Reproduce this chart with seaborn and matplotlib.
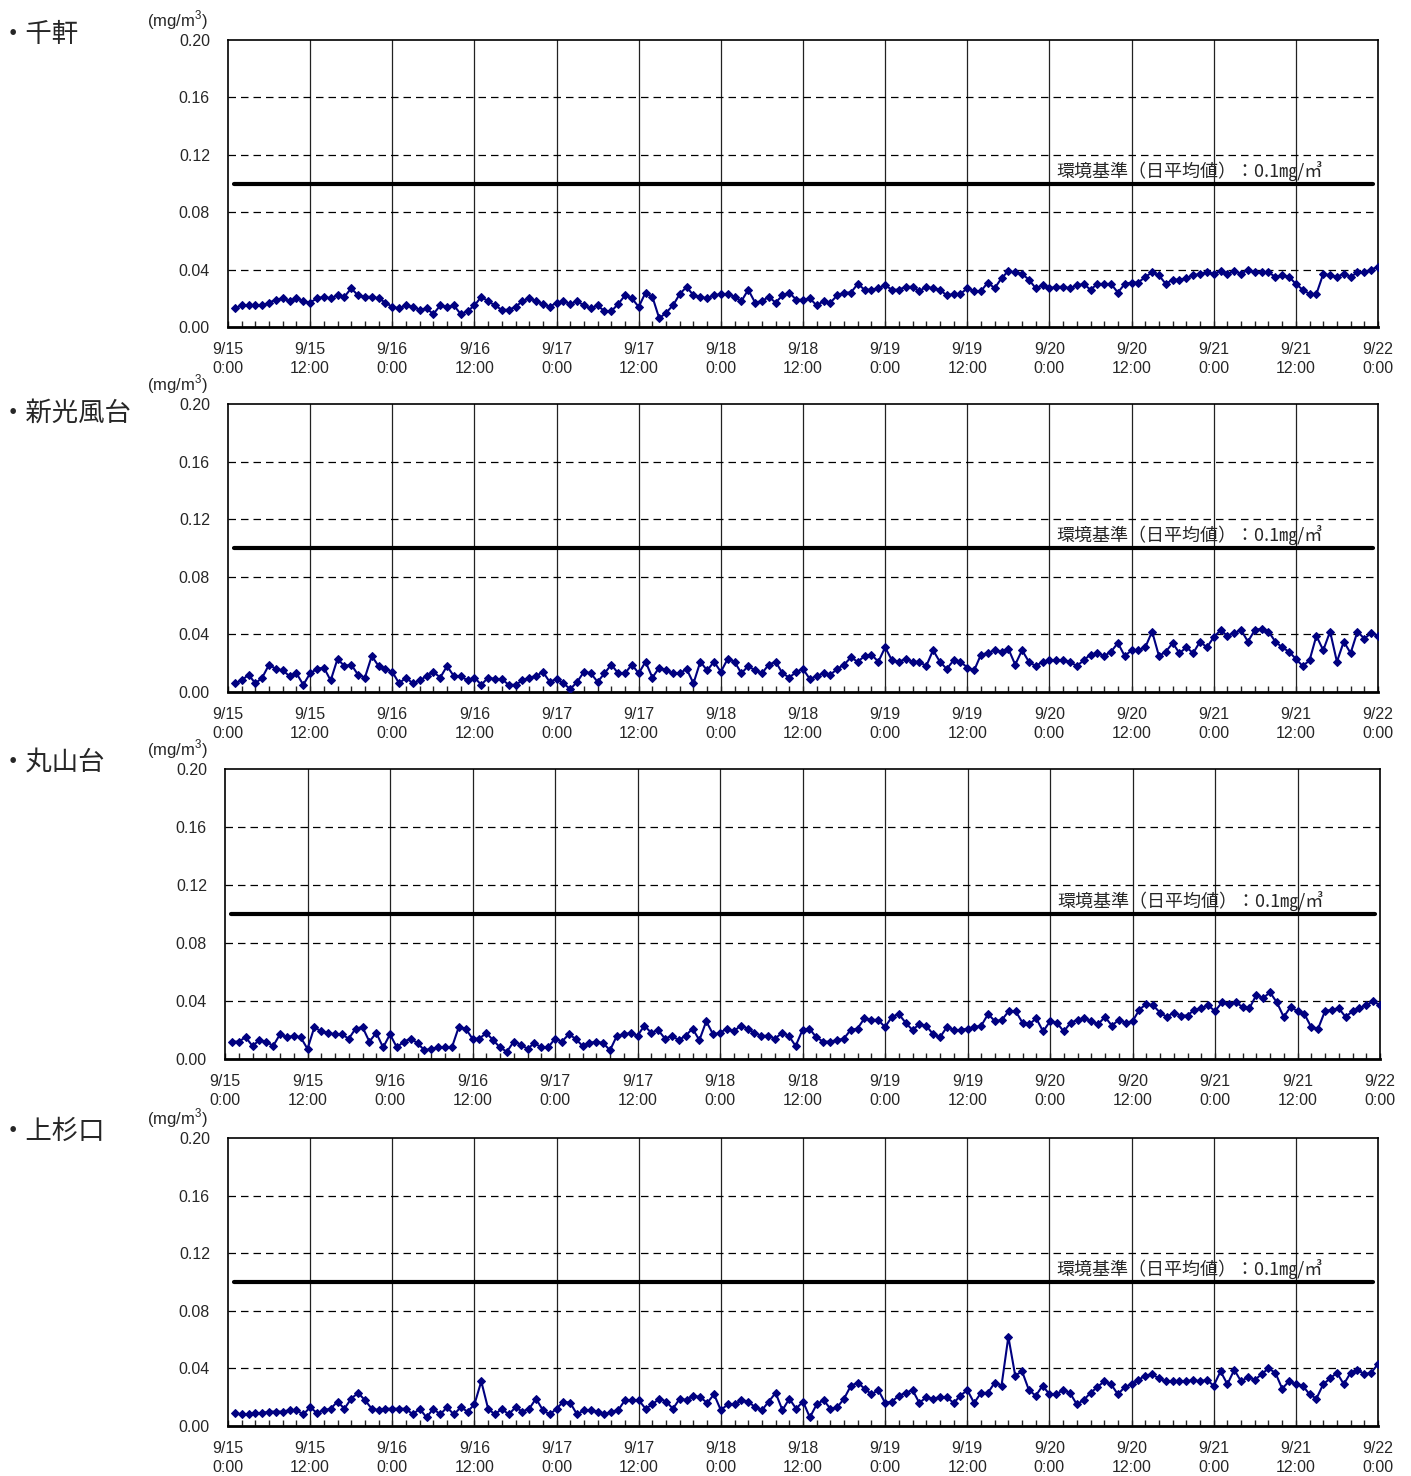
import numpy as np
import pandas as pd
import matplotlib
matplotlib.use("Agg")
import matplotlib.pyplot as plt
from matplotlib.ticker import MultipleLocator
import seaborn as sns

# hourly values (mg/m3), 9/15 1:00 ... 9/22 0:00
STATIONS = ["千軒", "新光風台", "丸山台", "上杉口"]

senken = [
    0.013, 0.015, 0.015, 0.015, 0.015, 0.017, 0.019, 0.020, 0.018, 0.020, 0.018, 0.017,
    0.020, 0.021, 0.020, 0.022, 0.021, 0.027, 0.022, 0.021, 0.021, 0.020, 0.017, 0.014,
    0.013, 0.015, 0.014, 0.012, 0.013, 0.009, 0.015, 0.014, 0.015, 0.009, 0.011, 0.015,
    0.021, 0.018, 0.015, 0.012, 0.012, 0.014, 0.018, 0.020, 0.018, 0.016, 0.014, 0.017,
    0.018, 0.016, 0.018, 0.015, 0.013, 0.015, 0.011, 0.011, 0.016, 0.022, 0.020, 0.014,
    0.024, 0.021, 0.006, 0.010, 0.015, 0.023, 0.028, 0.022, 0.021, 0.020, 0.022, 0.023,
    0.023, 0.021, 0.018, 0.026, 0.017, 0.018, 0.021, 0.017, 0.022, 0.024, 0.019, 0.019,
    0.020, 0.015, 0.018, 0.017, 0.022, 0.024, 0.024, 0.030, 0.026, 0.026, 0.027, 0.029,
    0.026, 0.026, 0.028, 0.028, 0.025, 0.028, 0.027, 0.026, 0.022, 0.023, 0.023, 0.027,
    0.025, 0.025, 0.031, 0.027, 0.034, 0.039, 0.038, 0.037, 0.033, 0.027, 0.029, 0.027,
    0.028, 0.028, 0.027, 0.029, 0.030, 0.026, 0.030, 0.030, 0.030, 0.024, 0.030, 0.031,
    0.031, 0.035, 0.038, 0.036, 0.030, 0.033, 0.033, 0.034, 0.036, 0.037, 0.038, 0.037,
    0.039, 0.037, 0.039, 0.037, 0.040, 0.038, 0.038, 0.038, 0.035, 0.036, 0.035, 0.030,
    0.026, 0.023, 0.023, 0.037, 0.036, 0.035, 0.037, 0.035, 0.038, 0.038, 0.040, 0.042,
]

shinkofudai = [
    0.006, 0.008, 0.012, 0.006, 0.010, 0.019, 0.016, 0.015, 0.011, 0.013, 0.005, 0.013,
    0.016, 0.017, 0.008, 0.023, 0.018, 0.019, 0.012, 0.010, 0.025, 0.018, 0.016, 0.014,
    0.006, 0.010, 0.006, 0.008, 0.011, 0.014, 0.010, 0.018, 0.011, 0.011, 0.008, 0.010,
    0.005, 0.010, 0.009, 0.009, 0.005, 0.005, 0.008, 0.010, 0.011, 0.014, 0.007, 0.009,
    0.006, 0.002, 0.007, 0.014, 0.013, 0.007, 0.013, 0.019, 0.013, 0.013, 0.019, 0.013,
    0.021, 0.010, 0.017, 0.015, 0.013, 0.013, 0.016, 0.006, 0.021, 0.015, 0.021, 0.014,
    0.023, 0.021, 0.013, 0.018, 0.015, 0.013, 0.019, 0.021, 0.013, 0.010, 0.014, 0.016,
    0.009, 0.011, 0.013, 0.012, 0.016, 0.019, 0.024, 0.021, 0.025, 0.026, 0.021, 0.031,
    0.022, 0.021, 0.023, 0.021, 0.021, 0.018, 0.029, 0.021, 0.016, 0.022, 0.021, 0.017,
    0.015, 0.026, 0.027, 0.029, 0.028, 0.030, 0.019, 0.029, 0.021, 0.018, 0.021, 0.022,
    0.022, 0.022, 0.021, 0.018, 0.022, 0.026, 0.027, 0.025, 0.028, 0.034, 0.025, 0.029,
    0.029, 0.031, 0.042, 0.025, 0.028, 0.034, 0.027, 0.031, 0.027, 0.035, 0.031, 0.038,
    0.043, 0.039, 0.041, 0.043, 0.035, 0.043, 0.044, 0.042, 0.035, 0.031, 0.028, 0.023,
    0.018, 0.022, 0.039, 0.029, 0.042, 0.021, 0.035, 0.027, 0.042, 0.037, 0.041, 0.039,
]

maruyamadai = [
    0.012, 0.012, 0.015, 0.009, 0.013, 0.012, 0.009, 0.017, 0.015, 0.016, 0.015, 0.007,
    0.022, 0.019, 0.018, 0.017, 0.017, 0.014, 0.021, 0.022, 0.012, 0.018, 0.008, 0.017,
    0.008, 0.012, 0.014, 0.011, 0.006, 0.007, 0.008, 0.008, 0.008, 0.022, 0.021, 0.014,
    0.014, 0.018, 0.013, 0.008, 0.005, 0.012, 0.010, 0.007, 0.011, 0.008, 0.008, 0.014,
    0.012, 0.017, 0.014, 0.009, 0.011, 0.012, 0.011, 0.006, 0.016, 0.017, 0.018, 0.016,
    0.023, 0.018, 0.020, 0.014, 0.016, 0.013, 0.016, 0.021, 0.013, 0.026, 0.017, 0.018,
    0.021, 0.019, 0.023, 0.021, 0.018, 0.016, 0.016, 0.014, 0.018, 0.016, 0.009, 0.020,
    0.021, 0.015, 0.012, 0.012, 0.013, 0.014, 0.020, 0.021, 0.028, 0.027, 0.027, 0.022,
    0.029, 0.031, 0.025, 0.020, 0.024, 0.023, 0.017, 0.015, 0.022, 0.020, 0.020, 0.021,
    0.022, 0.023, 0.031, 0.026, 0.027, 0.033, 0.033, 0.025, 0.024, 0.028, 0.019, 0.026,
    0.025, 0.019, 0.025, 0.027, 0.028, 0.026, 0.024, 0.029, 0.023, 0.027, 0.025, 0.026,
    0.034, 0.038, 0.037, 0.032, 0.029, 0.032, 0.030, 0.030, 0.034, 0.035, 0.037, 0.033,
    0.039, 0.038, 0.039, 0.036, 0.035, 0.044, 0.042, 0.046, 0.039, 0.029, 0.036, 0.033,
    0.031, 0.022, 0.021, 0.033, 0.034, 0.035, 0.029, 0.033, 0.035, 0.037, 0.040, 0.037,
]

kamisugiguchi = [
    0.009, 0.008, 0.008, 0.009, 0.009, 0.010, 0.010, 0.010, 0.011, 0.011, 0.008, 0.013,
    0.009, 0.011, 0.012, 0.017, 0.012, 0.019, 0.023, 0.018, 0.012, 0.011, 0.012, 0.012,
    0.012, 0.012, 0.008, 0.012, 0.006, 0.012, 0.008, 0.013, 0.008, 0.013, 0.010, 0.015,
    0.031, 0.012, 0.008, 0.012, 0.008, 0.013, 0.010, 0.012, 0.019, 0.011, 0.008, 0.012,
    0.017, 0.016, 0.008, 0.011, 0.011, 0.010, 0.008, 0.010, 0.011, 0.018, 0.018, 0.018,
    0.012, 0.015, 0.019, 0.017, 0.012, 0.019, 0.018, 0.021, 0.020, 0.016, 0.022, 0.011,
    0.015, 0.015, 0.018, 0.017, 0.013, 0.011, 0.017, 0.023, 0.011, 0.019, 0.012, 0.017,
    0.006, 0.015, 0.018, 0.012, 0.013, 0.019, 0.028, 0.030, 0.026, 0.022, 0.025, 0.016,
    0.017, 0.021, 0.023, 0.025, 0.016, 0.020, 0.019, 0.020, 0.020, 0.016, 0.021, 0.025,
    0.016, 0.023, 0.023, 0.030, 0.028, 0.062, 0.035, 0.038, 0.025, 0.021, 0.028, 0.022,
    0.022, 0.025, 0.023, 0.015, 0.018, 0.023, 0.027, 0.031, 0.029, 0.022, 0.027, 0.029,
    0.032, 0.035, 0.036, 0.033, 0.031, 0.031, 0.031, 0.031, 0.032, 0.031, 0.032, 0.028,
    0.038, 0.029, 0.039, 0.031, 0.034, 0.032, 0.036, 0.040, 0.037, 0.026, 0.031, 0.029,
    0.028, 0.022, 0.019, 0.029, 0.033, 0.037, 0.029, 0.037, 0.039, 0.036, 0.037, 0.043,
]

SERIES = [senken, shinkofudai, maruyamadai, kamisugiguchi]
HOURS = np.arange(1, 169)

TICK_LABELS = [
    "9/15\n0:00", "9/15\n12:00", "9/16\n0:00", "9/16\n12:00", "9/17\n0:00",
    "9/17\n12:00", "9/18\n0:00", "9/18\n12:00", "9/19\n0:00", "9/19\n12:00",
    "9/20\n0:00", "9/20\n12:00", "9/21\n0:00", "9/21\n12:00", "9/22\n0:00",
]
Y_TICKS = [0.00, 0.04, 0.08, 0.12, 0.16, 0.20]
STANDARD = 0.1
STANDARD_LABEL = "環境基準（日平均値）：0.1㎎/㎥"

W, H = 1411, 1476
# axes boxes in pixels: left, top, right, bottom
BOXES = [(228, 40, 1378, 327), (228, 404, 1378, 692),
         (225, 769, 1380, 1059), (228, 1138, 1378, 1426)]
TITLE_Y = [35, 413, 762, 1131]

sns.set_style("white")
plt.rcParams["font.family"] = ["Liberation Sans", "Noto Sans CJK JP", "DejaVu Sans"]
plt.rcParams["mathtext.fontset"] = "custom"
plt.rcParams["mathtext.rm"] = "Liberation Sans"

fig = plt.figure(figsize=(W / 100, H / 100), dpi=100)

for name, vals, (l, t, r, b), ty in zip(STATIONS, SERIES, BOXES, TITLE_Y):
    ax = fig.add_axes([l / W, 1 - b / H, (r - l) / W, (b - t) / H])
    df = pd.DataFrame({"hour": HOURS, "value": vals})

    # gridlines
    for x in range(12, 168, 12):
        ax.axvline(x, color="#222222", lw=0.9, zorder=1)
    for y in Y_TICKS[1:-1]:
        ax.axhline(y, color="black", lw=0.9, ls=(0, (6, 4)), zorder=1)

    ax.axhline(STANDARD, xmin=0.005, xmax=0.996, color="black", lw=3, zorder=2)
    ax.text(121, STANDARD + 0.0012, STANDARD_LABEL, fontsize=13,
            family=["Noto Sans CJK JP", "DejaVu Sans"], va="bottom", ha="left", zorder=3)

    sns.lineplot(data=df, x="hour", y="value", ax=ax, color="#000080", lw=1.5,
                 marker="D", markersize=4.5, markeredgecolor="#000080", zorder=4)

    ax.set_xlim(0, 168)
    ax.set_ylim(0, 0.2)
    ax.set_xticks(range(0, 169, 12))
    ax.set_xticklabels(TICK_LABELS, fontsize=11.5, linespacing=1.3)
    ax.xaxis.set_minor_locator(MultipleLocator(2))
    ax.set_yticks(Y_TICKS)
    ax.set_yticklabels([f"{v:.2f}" for v in Y_TICKS], fontsize=11.5)
    ax.tick_params(axis="x", which="both", direction="in", length=4, width=1,
                   bottom=True, pad=11)
    ax.tick_params(axis="y", length=0, pad=13)
    ax.set_xlabel("")
    ax.set_ylabel("")
    for sp in ax.spines.values():
        sp.set_color("black")
        sp.set_linewidth(1.2)
    ax.spines["bottom"].set_linewidth(2)

    fig.text(0 / W, 1 - ty / H, "・" + name, fontsize=19, va="center", ha="left",
             family=["Noto Sans CJK JP", "DejaVu Sans"])
    fig.text(177 / W, 1 - (t - 20) / H, "(mg/m$^3$)", fontsize=12,
             va="center", ha="center")

fig.savefig("out.png", dpi=100)
